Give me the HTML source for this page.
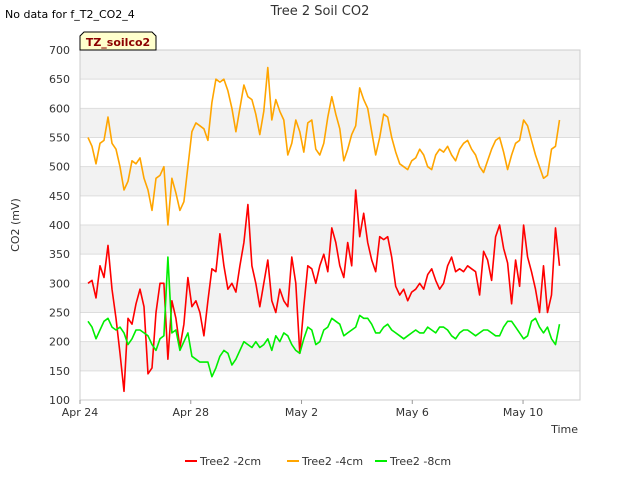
<!DOCTYPE html>
<html><head><meta charset="utf-8"><style>
body{margin:0;background:#fff;font-family:"Liberation Sans","DejaVu Sans",sans-serif}
text{font-family:"DejaVu Sans","Liberation Sans",sans-serif}
</style></head><body>
<svg id="c" width="640" height="480" xmlns="http://www.w3.org/2000/svg">
<text x="5" y="18" font-size="11" fill="#000">No data for f_T2_CO2_4</text>
<text x="320" y="15" font-size="13" fill="#333" text-anchor="middle">Tree 2 Soil CO2</text>
<g id="plot"></g>
<text x="19" y="225" font-size="11" fill="#333" text-anchor="middle" transform="rotate(-90 19 225)">CO2 (mV)</text>
<text x="578" y="433" font-size="11" fill="#333" text-anchor="end">Time</text>
<g>
<path d="M80,50 L80,36 L84,32 L152,32 L156,36 L156,50 Z" fill="#ffffcc" stroke="#000" stroke-width="1"/>
<text x="118" y="46" font-size="11" font-weight="bold" fill="#8b0000" text-anchor="middle">TZ_soilco2</text>
</g>
<g id="legend"></g>
</svg>
<script>
const yTicks=[100,150,200,250,300,350,400,450,500,550,600,650,700];
const xTickLabels=["Apr 24","Apr 28","May 2","May 6","May 10"];
const xTickDays=[0,4,8,12,16];
const startDay=0.29, stepDay=0.1443;
const red=[300,305,275,330,310,365,290,240,180,115,240,230,265,290,260,145,155,250,300,300,170,270,240,190,230,310,260,270,250,210,270,325,320,385,330,290,300,285,330,370,435,330,300,260,300,340,270,250,290,270,260,345,300,180,260,330,325,300,330,350,320,395,370,330,310,370,330,460,380,420,370,340,320,380,375,380,345,295,280,290,270,285,290,300,290,315,325,305,290,300,330,345,320,325,320,330,325,320,280,355,340,305,380,400,360,335,265,340,295,400,345,320,290,250,330,250,280,395,330];
const orange=[550,535,505,540,545,585,540,530,500,460,475,510,505,515,480,460,425,480,485,500,400,480,455,425,440,500,560,575,570,565,545,610,650,645,650,630,600,560,600,640,620,615,590,555,595,670,580,615,595,580,520,540,580,560,525,575,580,530,520,540,585,620,590,565,510,530,555,570,635,615,600,560,520,550,590,585,550,525,505,500,495,510,515,530,520,500,495,520,530,525,535,520,510,530,540,545,530,520,500,490,510,530,545,550,525,495,520,540,545,580,570,545,520,500,480,485,530,535,580];
const green=[235,225,205,220,235,240,225,220,225,215,195,205,220,220,215,210,195,185,205,210,345,215,220,185,200,215,175,170,165,165,165,140,155,175,185,180,160,170,185,200,195,190,200,190,195,205,185,210,200,215,210,195,185,180,205,225,220,195,200,220,225,240,235,230,210,215,220,225,245,240,240,230,215,215,225,230,220,215,210,205,210,215,220,215,215,225,220,215,225,225,220,210,205,215,220,220,215,210,215,220,220,215,210,210,225,235,235,225,215,205,210,235,240,225,215,225,205,195,230];
const NS="http://www.w3.org/2000/svg";
const X0=80,X1=580,Y0=50,Y1=400;
const xs=d=>X0+d*27.69;
const ys=v=>Y1-(v-100)*(Y1-Y0)/600;
const plot=document.getElementById('plot');
function mk(t,a,p){const e=document.createElementNS(NS,t);for(const k in a)e.setAttribute(k,a[k]);(p||plot).appendChild(e);return e;}
for(let i=0;i<yTicks.length-1;i++){
  if(i%2===1){const b=mk('rect',{x:X0,y:ys(yTicks[i+1]),width:X1-X0,height:ys(yTicks[i])-ys(yTicks[i+1]),fill:'#f2f2f2'});
  
  }
}
yTicks.forEach(v=>{
  const l=mk('line',{x1:X0,x2:X1,y1:ys(v),y2:ys(v),stroke:'#ddd','stroke-width':1});
  
  
  const t=mk('text',{x:X0-10,y:ys(v)+4,'font-size':11,fill:'#333','text-anchor':'end'});
  t.textContent=v;
  
  
});
mk('rect',{x:X0,y:Y0,width:X1-X0,height:Y1-Y0,fill:'none',stroke:'#ccc'});
xTickDays.forEach((d,i)=>{
  mk('line',{x1:xs(d),x2:xs(d),y1:Y1,y2:Y1+4,stroke:'#999'});
  const t=mk('text',{x:xs(d),y:Y1+16,'font-size':11,fill:'#333','text-anchor':'middle'});
  t.textContent=xTickLabels[i];
  
  
});
function series(arr,col,name){
  const pts=arr.map((v,i)=>xs(startDay+i*stepDay).toFixed(1)+','+ys(v).toFixed(1)).join(' ');
  const p=mk('polyline',{points:pts,fill:'none',stroke:col,'stroke-width':1.6,'stroke-linejoin':'round'});
  
  
}
series(orange,'#ffa500','series-tree2-4cm');
series(red,'#ff0000','series-tree2-2cm');
series(green,'#00ee00','series-tree2-8cm');
const leg=document.getElementById('legend');
[['Tree2 -2cm','#ff0000',185],['Tree2 -4cm','#ffa500',287],['Tree2 -8cm','#00ee00',375]].forEach(([n,c,x])=>{
  const g=mk('g',{},leg);
  
  
  mk('line',{x1:x,x2:x+12,y1:461,y2:461,stroke:c,'stroke-width':2},g);
  const t=mk('text',{x:x+15,y:465,'font-size':11,fill:'#333'},g);
  t.textContent=n;
});
</script>
</body></html>
